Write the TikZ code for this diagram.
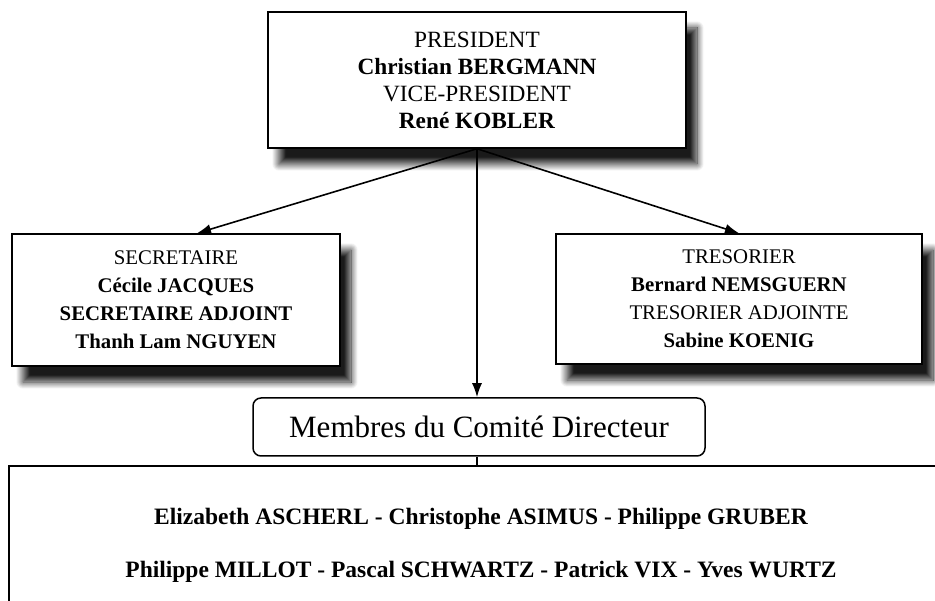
\documentclass[tikz,border=0pt]{standalone}
\usepackage{fontspec}
\setmainfont{Liberation Serif}
\usetikzlibrary{shadows.blur, arrows.meta}

\begin{document}
\begin{tikzpicture}[x=1pt, y=-1pt, >={Latex[length=14pt, width=10pt]},
    office/.style={shape=rectangle, draw, line width=1.5pt, fill=white, align=center,
                   blur shadow={shadow xshift=11pt, shadow yshift=-16pt,
                                shadow blur radius=7pt, shadow blur steps=14, shadow opacity=90}},
    link/.style={->, line width=1.6pt}]

  \clip (0,0) rectangle (935,601);

  \node (pres) at (477,80) [office, minimum width=418pt, minimum height=136pt,
                            font=\fontsize{23.3}{27}\selectfont]
        {PRESIDENT\\ \textbf{Christian BERGMANN}\\ VICE-PRESIDENT\\ \textbf{René KOBLER}};
  \node (sec) at (176,300) [office, minimum width=328pt, minimum height=132pt,
                            font=\fontsize{20.8}{28}\selectfont]
        {SECRETAIRE\\ \textbf{Cécile JACQUES}\\ \textbf{SECRETAIRE ADJOINT}\\ \textbf{Thanh Lam NGUYEN}};
  \node (tres) at (739,299) [office, minimum width=366pt, minimum height=130pt,
                             font=\fontsize{20.8}{28}\selectfont]
        {TRESORIER\\ \textbf{Bernard NEMSGUERN}\\ TRESORIER ADJOINTE\\ \textbf{Sabine KOENIG}};
  \node (comite) at (479,427) [shape=rectangle, draw, rounded corners=8pt, line width=1.5pt,
                               minimum width=452pt, minimum height=58pt,
                               font=\fontsize{31}{34}\selectfont] {Membres du Comité Directeur};
  \node (membres) at (481,545) [shape=rectangle, draw, line width=1.5pt, align=center,
                                minimum width=944pt, minimum height=158pt,
                                font=\bfseries\fontsize{23.5}{53}\selectfont]
        {Elizabeth ASCHERL - Christophe ASIMUS - Philippe GRUBER\\
         Philippe MILLOT - Pascal SCHWARTZ - Patrick VIX - Yves WURTZ};

  \draw [link] (pres.south) -- ([xshift=21pt]sec.north);
  \draw [link] (pres.south) -- (tres.north);
  \draw [link] (pres.south) -- (pres.south |- comite.north);
  \draw [line width=1.6pt] (pres.south |- comite.south) -- (pres.south |- membres.north);
\end{tikzpicture}
\end{document}
